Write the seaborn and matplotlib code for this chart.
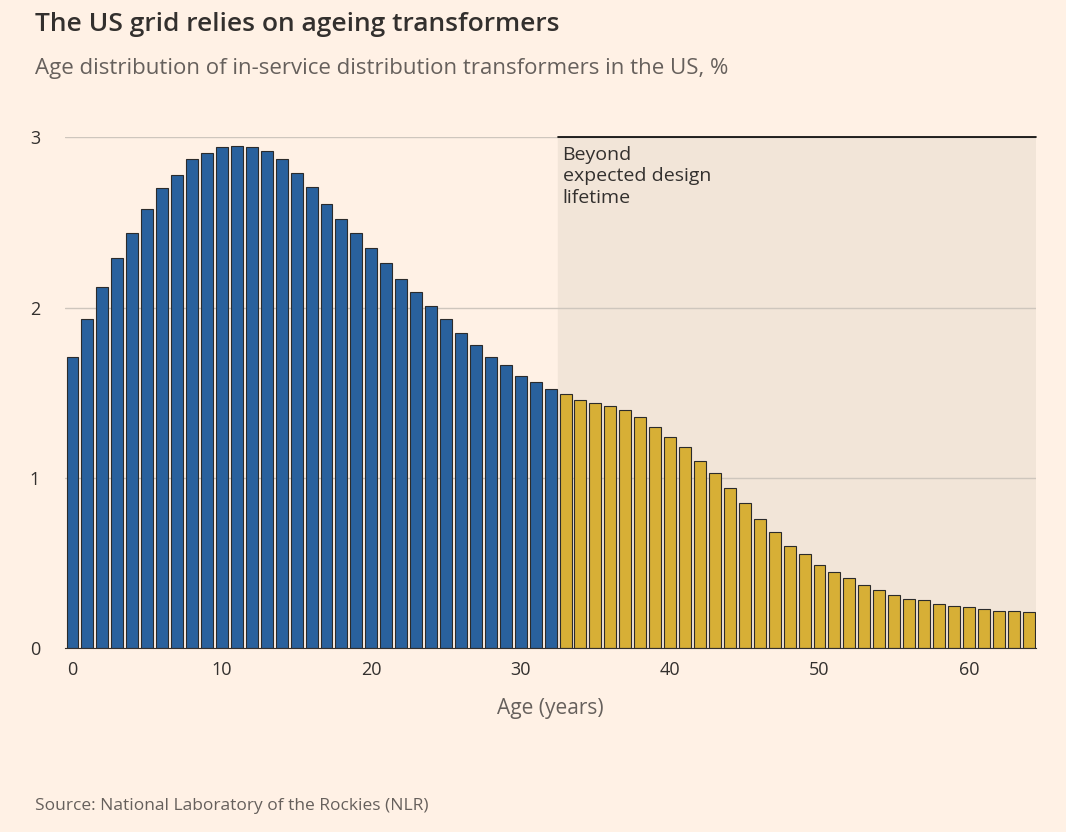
import matplotlib
matplotlib.use("Agg")
import matplotlib.pyplot as plt
import seaborn as sns
import pandas as pd

ages = list(range(65))
share = [1.71,1.93,2.12,2.29,2.44,2.58,2.70,2.78,2.87,2.91,2.94,2.95,2.94,2.92,2.87,2.79,
         2.71,2.61,2.52,2.44,2.35,2.26,2.17,2.09,2.01,1.93,1.85,1.78,1.71,1.66,1.60,1.56,
         1.52,1.49,1.46,1.44,1.42,1.40,1.36,1.30,1.24,1.18,1.10,1.03,0.94,0.85,0.76,0.68,
         0.60,0.55,0.49,0.45,0.41,0.37,0.34,0.31,0.29,0.28,0.26,0.25,0.24,0.23,0.22,0.22,0.21]
design_life = 33
xticks = [0, 10, 20, 30, 40, 50, 60]
yticks = [0, 1, 2, 3]

bg = "#FFF1E5"
df = pd.DataFrame({"age": ages, "share": share,
                   "grp": ["within" if a < design_life else "beyond" for a in ages]})

sns.set_style("white")
plt.rcParams["font.family"] = ["Open Sans", "DejaVu Sans"]
fig = plt.figure(figsize=(10.66, 8.32), dpi=100, facecolor=bg)
ax = fig.add_axes([0.061, 0.221, 0.911, 0.614], facecolor=bg)

ax.axvspan(design_life - 0.5, 64.5, ymin=0, ymax=1, color="#F2E5D8", zorder=0)
ax.plot([design_life - 0.5, 64.5], [3, 3], color="black", lw=1.2, zorder=3, clip_on=False)
for y in yticks[1:]:
    ax.axhline(y, color="#CEC6BD", lw=1, zorder=1)

sns.barplot(data=df, x="age", y="share", hue="grp",
            palette={"within": "#1660B0", "beyond": "#F2BC1B"},
            width=0.8, edgecolor="#2B2B2B", linewidth=0.8, legend=False, ax=ax, zorder=2)

ax.set_xlim(-0.5, 64.5)
ax.set_ylim(0, 3)
ax.set_xticks(xticks)
ax.set_xticklabels([str(t) for t in xticks], fontsize=13, color="#33302E")
ax.set_yticks(yticks)
ax.set_yticklabels([str(t) for t in yticks], fontsize=13, color="#33302E")
ax.tick_params(axis="x", length=5, color="#33302E", pad=4)
ax.tick_params(axis="y", length=0, pad=18)
for s in ["left", "right", "top"]:
    ax.spines[s].set_visible(False)
ax.spines["bottom"].set_color("#33302E")
ax.set_xlabel("Age (years)", fontsize=15, color="#66605C", labelpad=14)
ax.set_ylabel("")

ax.text(design_life - 0.2, 2.95, "Beyond\nexpected design\nlifetime", va="top", ha="left",
        fontsize=14, color="#33302E", linespacing=1.25, zorder=4)

fig.text(0.033, 0.955, "The US grid relies on ageing transformers", fontsize=19,
         fontweight="semibold", color="#33302E", va="bottom")
fig.text(0.033, 0.905, "Age distribution of in-service distribution transformers in the US, %",
         fontsize=16, color="#66605C", va="bottom")
fig.text(0.033, 0.022, "Source: National Laboratory of the Rockies (NLR)", fontsize=12.5,
         color="#66605C", va="bottom")

fig.savefig("out.png", dpi=100, facecolor=bg)
